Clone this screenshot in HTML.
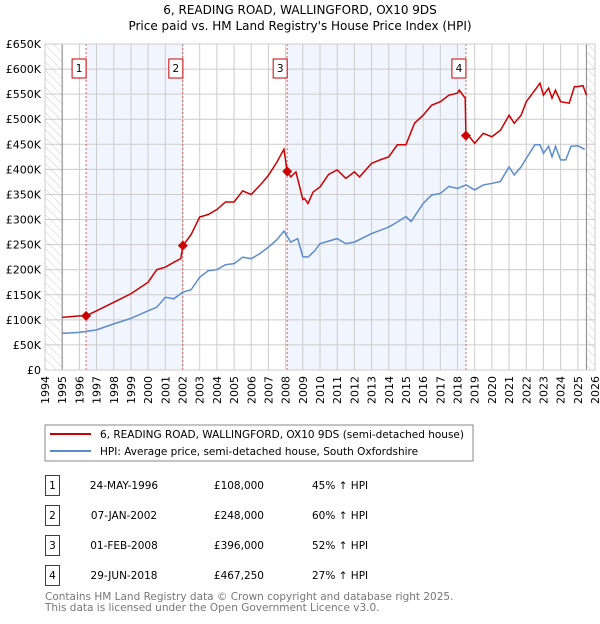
<!DOCTYPE html>
<html><head><meta charset="utf-8"><style>
body{margin:0;background:#fff;font-family:"DejaVu Sans","Liberation Sans",sans-serif;}
svg text{font-family:"DejaVu Sans","Liberation Sans",sans-serif;}
</style></head><body>
<svg id="c" width="600" height="620" xmlns="http://www.w3.org/2000/svg">
<defs><pattern id="hatch" width="6" height="6" patternUnits="userSpaceOnUse" patternTransform="rotate(-45)"><line x1="0" y1="0" x2="0" y2="6" stroke="#ccc" stroke-width="1"/></pattern></defs>
<text x="300" y="14" text-anchor="middle" font-size="12">6, READING ROAD, WALLINGFORD, OX10 9DS</text>
<text x="300" y="30" text-anchor="middle" font-size="12">Price paid vs. HM Land Registry's House Price Index (HPI)</text>
<g id="plot"></g>
<rect x="45" y="425" width="428" height="36" fill="#fff" stroke="#888"/>
<line x1="50" y1="434" x2="91" y2="434" stroke="#cc0000" stroke-width="2"/>
<text x="100" y="438" font-size="10.5">6, READING ROAD, WALLINGFORD, OX10 9DS (semi-detached house)</text>
<line x1="50" y1="451" x2="91" y2="451" stroke="#5b8bd0" stroke-width="2"/>
<text x="100" y="455" font-size="10.5">HPI: Average price, semi-detached house, South Oxfordshire</text>
<g id="table" font-size="10.5"></g>
<text x="45" y="600" font-size="10.5" fill="#777">Contains HM Land Registry data © Crown copyright and database right 2025.</text>
<text x="45" y="611" font-size="10.5" fill="#777">This data is licensed under the Open Government Licence v3.0.</text>
</svg>
<script>
const yearTicks=[1994,1995,1996,1997,1998,1999,2000,2001,2002,2003,2004,2005,2006,2007,2008,2009,2010,2011,2012,2013,2014,2015,2016,2017,2018,2019,2020,2021,2022,2023,2024,2025,2026];
const valueTicks=[0,50,100,150,200,250,300,350,400,450,500,550,600,650];
const hpiYears=[1995,1996,1997,1998,1999,2000,2000.5,2001,2001.5,2002,2002.5,2003,2003.5,2004,2004.5,2005,2005.5,2006,2006.5,2007,2007.5,2007.9,2008.3,2008.7,2009,2009.3,2009.7,2010,2011,2011.5,2012,2013,2014,2014.5,2015,2015.3,2016,2016.5,2017,2017.5,2018,2018.5,2019,2019.5,2020,2020.5,2021,2021.3,2021.7,2022,2022.5,2022.8,2023,2023.3,2023.5,2023.7,2024,2024.3,2024.6,2025,2025.4];
const hpiValues=[73,75,80,92,103,118,125,145,142,155,160,185,198,200,210,212,225,222,232,245,260,277,255,262,226,225,238,252,262,252,255,272,285,295,306,296,332,349,352,366,362,369,359,369,372,376,405,389,405,422,449,449,432,446,425,446,419,419,446,447,440];
const priceYears=[1995,1996,1996.39,1997,1998,1999,2000,2000.5,2001,2001.5,2001.9,2002.02,2002.5,2003,2003.5,2004,2004.5,2005,2005.5,2006,2006.5,2007,2007.5,2007.9,2008.09,2008.3,2008.6,2009,2009.1,2009.3,2009.6,2010,2010.5,2011,2011.5,2012,2012.3,2013,2013.5,2014,2014.5,2015,2015.5,2016,2016.5,2017,2017.5,2018,2018.1,2018.45,2018.49,2018.7,2019,2019.5,2020,2020.5,2021,2021.3,2021.7,2022,2022.5,2022.8,2023,2023.3,2023.5,2023.7,2024,2024.5,2024.8,2025,2025.3,2025.5];
const priceValues=[105,108,108,118,135,152,175,200,205,215,222,248,270,305,310,320,335,335,357,350,368,388,415,440,396,385,395,340,342,332,355,365,390,399,382,395,385,412,419,425,449,449,492,508,528,535,548,552,558,542,467.25,465,452,472,465,478,508,492,508,535,558,572,548,562,542,558,535,532,565,565,567,548];
const saleYears=[1996.39,2002.02,2008.09,2018.49];
const saleValues=[108,248,396,467.25];
const saleLabels=["1","2","3","4"];
const saleDates=["24-MAY-1996","07-JAN-2002","01-FEB-2008","29-JUN-2018"];
const salePrices=["£108,000","£248,000","£396,000","£467,250"];
const saleHpi=["45% ↑ HPI","60% ↑ HPI","52% ↑ HPI","27% ↑ HPI"];

const NS="http://www.w3.org/2000/svg";
const X0=45,X1=595,Y0=370,Y1=44;
const x=y=>X0+(y-1994)/32*(X1-X0);
const yv=v=>Y0-v/650*(Y0-Y1);
const plot=document.getElementById('plot');
function mk(t,a,p){const e=document.createElementNS(NS,t);for(const k in a)e.setAttribute(k,a[k]);(p||plot).appendChild(e);return e;}
// hatch regions
let h=mk('rect',{x:X0,y:Y1,width:x(1995)-X0,height:Y0-Y1,fill:'url(#hatch)'});

h=mk('rect',{x:x(2025.5),y:Y1,width:X1-x(2025.5),height:Y0-Y1,fill:'url(#hatch)'});

// shaded ownership bands
for(const [a,b] of [[0,1],[2,3]]){
 const r=mk('rect',{x:x(saleYears[a]),y:Y1,width:x(saleYears[b])-x(saleYears[a]),height:Y0-Y1,fill:'#eef3fd',opacity:0.8});
 
 
}
// grid
yearTicks.forEach(t=>{
 const l=mk('line',{x1:x(t),x2:x(t),y1:Y1,y2:Y0,stroke:'#ccc'});
 
 const tx=mk('text',{x:0,y:0,'font-size':11,'text-anchor':'end',transform:`translate(${x(t)+4},${Y0+6}) rotate(-90)`});
 tx.textContent=t;
 
});
valueTicks.forEach(v=>{
 const l=mk('line',{x1:X0,x2:X1,y1:yv(v),y2:yv(v),stroke:'#ccc'});
 
 const tx=mk('text',{x:41,y:yv(v)+4,'font-size':11,'text-anchor':'end'});
 tx.textContent=v===0?'£0':'£'+v+'K';
 
});
let ax=mk('line',{x1:x(1995),x2:x(1995),y1:Y1,y2:Y0,stroke:'#888'});

ax=mk('line',{x1:x(2025.5),x2:x(2025.5),y1:Y1,y2:Y0,stroke:'#888'});

// sale vertical lines and labels
saleYears.forEach((s,i)=>{
 const l=mk('line',{x1:x(s),x2:x(s),y1:Y1,y2:Y0,stroke:'#e06060','stroke-dasharray':'2,2'});
 
 const b=mk('rect',{x:x(s)-14,y:59,width:14,height:19,fill:'#fff',stroke:'#cc0000'});
 
 const t=mk('text',{x:x(s)-7,y:72,'font-size':10.5,'text-anchor':'middle'});
 t.textContent=saleLabels[i];
 
});
// lines
const hp=mk('polyline',{points:hpiYears.map((t,i)=>x(t)+','+yv(hpiValues[i])).join(' '),fill:'none',stroke:'#5b8bd0','stroke-width':1.5});

const pp=mk('polyline',{points:priceYears.map((t,i)=>x(t)+','+yv(priceValues[i])).join(' '),fill:'none',stroke:'#cc0000','stroke-width':1.5});

saleYears.forEach((s,i)=>{
 const cx=x(s),cy=yv(saleValues[i]);
 const d=mk('polygon',{points:`${cx},${cy-5} ${cx+5},${cy} ${cx},${cy+5} ${cx-5},${cy}`,fill:'#cc0000'});
 
});
let fr=mk('rect',{x:X0,y:Y1,width:X1-X0,height:Y0-Y1,fill:'none',stroke:'#ccc'});

// table
const tb=document.getElementById('table');
saleLabels.forEach((lab,i)=>{
 const ry=475+i*30;
 const b=mk('rect',{x:45.5,y:ry+0.5,width:14,height:20,fill:'none',stroke:'#cc0000'},tb);
 
 const cols=[[52.5,lab,'middle'],[124,saleDates[i],'middle'],[264,salePrices[i],'end'],[312,saleHpi[i],'start']];
 cols.forEach(([cx,txt,an],j)=>{
  const t=mk('text',{x:cx,y:ry+14,'text-anchor':an},tb);
  t.textContent=txt;
  
  
 });
});
</script>
</body></html>
